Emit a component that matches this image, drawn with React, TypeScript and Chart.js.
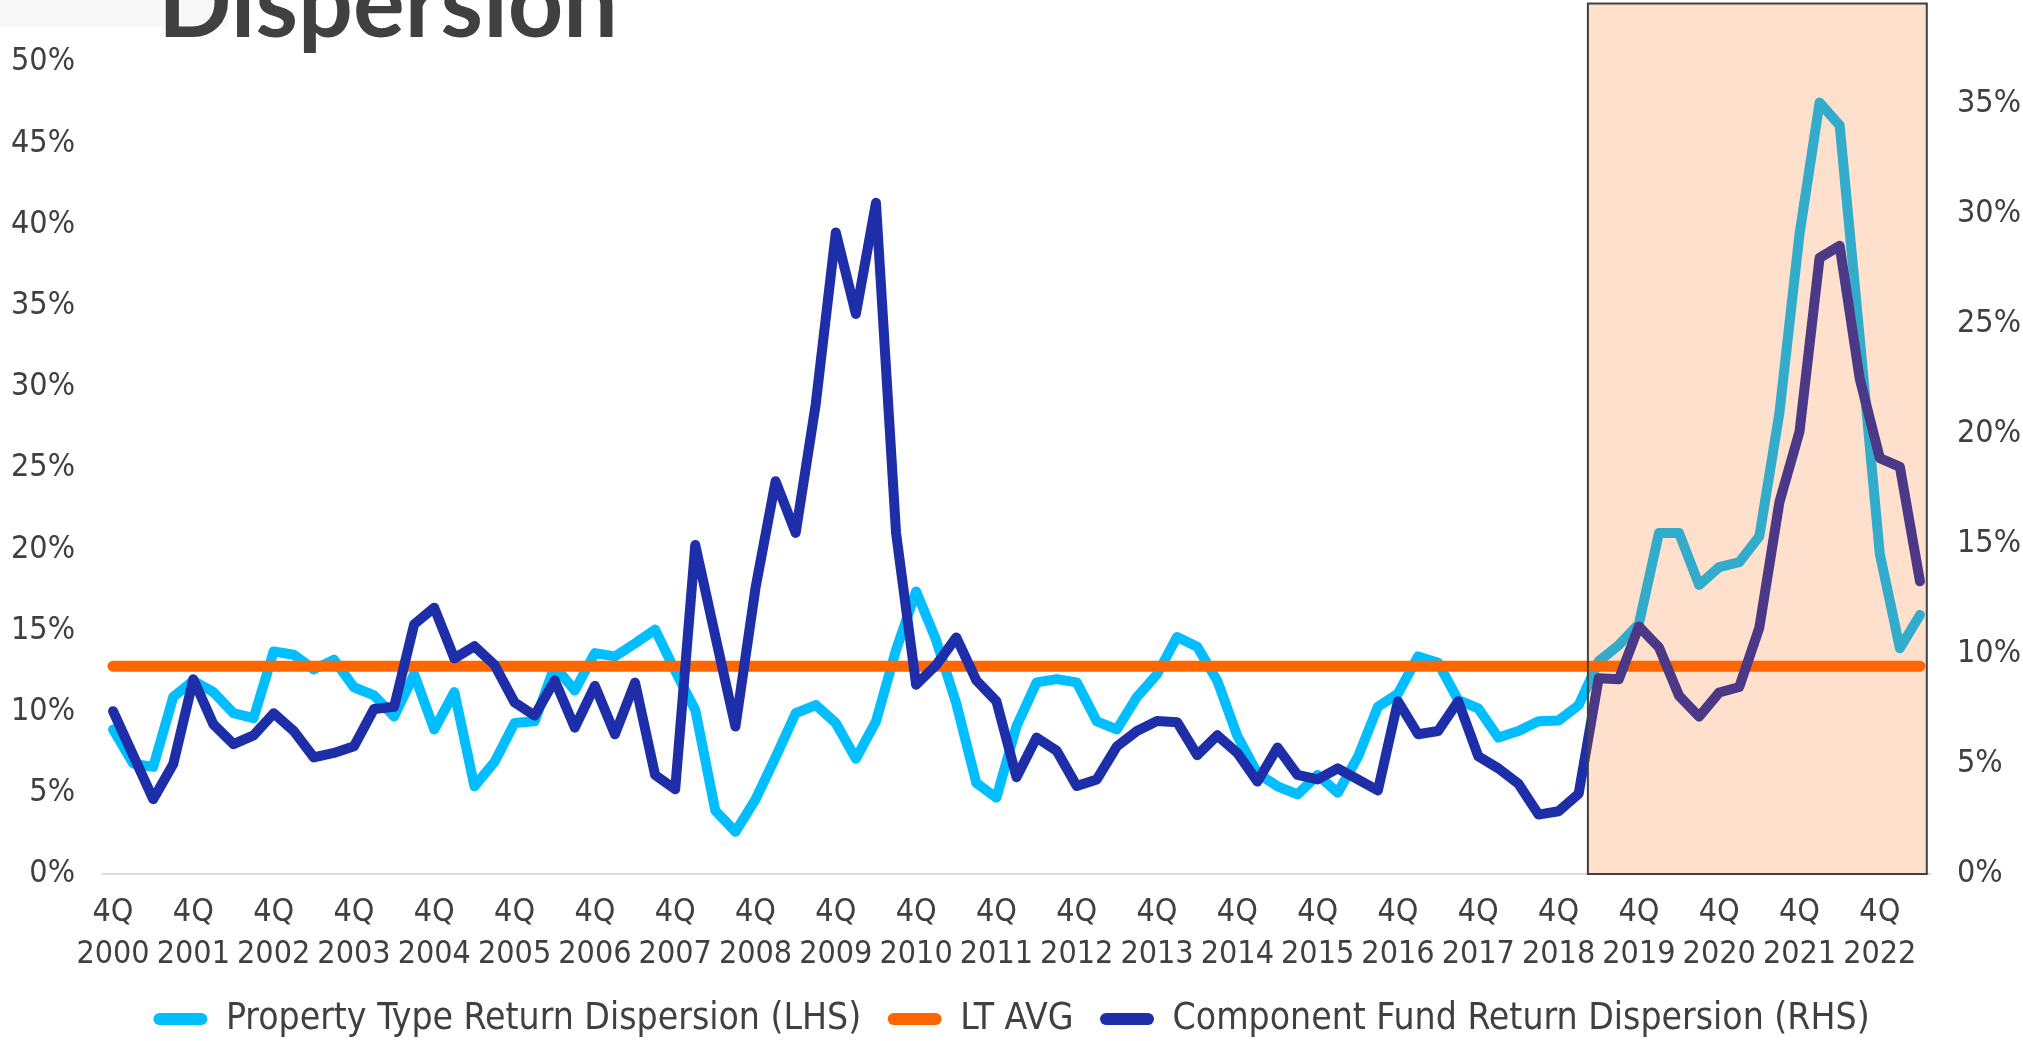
import { useEffect, useRef } from 'react';
import { Chart, registerables } from 'chart.js';

Chart.register(...registerables);

// ---------- data ----------
const firstYear = 2000; // series starts 4Q 2000
const quarterCount = 91; // 4Q 2000 .. 2Q 2023
const categories: string[] = [];
for (let i = 0; i < quarterCount; i++) {
  const q = ((3 + i) % 4) + 1;
  const y = firstYear + Math.floor((3 + i) / 4);
  categories.push(`${q}Q ${y}`);
}

// Property Type Return Dispersion (LHS), %
const propertyTypeDispersion = [
  8.9, 6.8, 6.6, 10.9, 11.9, 11.2, 9.9, 9.6, 13.7, 13.5,
  12.6, 13.2, 11.5, 11.0, 9.7, 12.3, 8.9, 11.2, 5.4, 6.9,
  9.3, 9.4, 12.8, 11.3, 13.6, 13.4, 14.2, 15.05, 12.5, 10.1,
  3.9, 2.6, 4.6, 7.2, 9.9, 10.4, 9.3, 7.1, 9.4, 13.8,
  17.4, 14.4, 10.5, 5.6, 4.7, 9.1, 11.8, 12.0, 11.8, 9.4,
  8.9, 10.9, 12.3, 14.6, 14.0, 11.9, 8.5, 6.2, 5.4, 4.9,
  6.1, 5.0, 7.2, 10.3, 11.1, 13.4, 13.0, 10.7, 10.2, 8.4,
  8.8, 9.4, 9.45, 10.4, 13.1, 14.1, 15.4, 21.0, 21.0, 17.8,
  18.9, 19.2, 20.8, 28.4, 39.4, 47.5, 46.1, 33.0, 19.7, 13.9,
  15.95,
];

// Component Fund Return Dispersion (RHS), %
const componentFundDispersion = [
  7.4, 5.4, 3.4, 5.0, 8.85, 6.8, 5.9, 6.3, 7.3, 6.5,
  5.3, 5.5, 5.8, 7.5, 7.6, 11.35, 12.1, 9.8, 10.35, 9.5,
  7.8, 7.2, 8.8, 6.65, 8.55, 6.35, 8.7, 4.5, 3.85, 14.95,
  10.8, 6.7, 13.0, 17.85, 15.5, 21.35, 29.15, 25.45, 30.5, 15.5,
  8.6, 9.5, 10.75, 8.8, 7.85, 4.4, 6.2, 5.6, 4.0, 4.3,
  5.8, 6.5, 6.95, 6.9, 5.4, 6.3, 5.5, 4.2, 5.75, 4.5,
  4.3, 4.8, 4.3, 3.8, 7.85, 6.35, 6.5, 7.85, 5.35, 4.8,
  4.1, 2.7, 2.85, 3.65, 8.9, 8.85, 11.25, 10.3, 8.1, 7.15,
  8.25, 8.5, 11.2, 16.9, 20.1, 28.0, 28.55, 22.5, 18.9, 18.5,
  13.3,
];

// Long-term average (LHS), %
const ltAvgValue = 12.8;
const ltAvg = categories.map(() => ltAvgValue);

// axis settings
const leftMax = 50;
const rightMax = 36.9;
const tickStep = 5;

// highlighted period (category index units, LHS % for top)
const highlightFrom = 73.46;
const highlightTo = 90.34;
const highlightTop = 53.6;

const titleText = 'Dispersion';

const LIGHT = '#00BEFF';
const DARK = '#1E2EA8';
const ORANGE = '#FF6600';
const TEXT = '#404040';
const FONT = "'DejaVu Sans Condensed', 'DejaVu Sans', sans-serif";

const highlightPlugin = {
  id: 'highlightBox',
  afterDatasetsDraw(chart: any) {
    const { ctx, scales } = chart;
    const x = scales.x;
    const y = scales.yLeft;
    const l = x.getPixelForValue(highlightFrom);
    const r = x.getPixelForValue(highlightTo);
    const t = y.getPixelForValue(highlightTop);
    const b = y.getPixelForValue(0);
    ctx.save();
    ctx.fillStyle = 'rgba(255,102,0,0.2)';
    ctx.fillRect(l, t, r - l, b - t);
    ctx.strokeStyle = '#404040';
    ctx.lineWidth = 2;
    ctx.strokeRect(l, t, r - l, b - t);
    ctx.restore();
  },
};

const titlePlugin = {
  id: 'cutTitle',
  beforeDraw(chart: any) {
    const { ctx } = chart;
    ctx.save();
    ctx.fillStyle = '#F8F8F8';
    ctx.fillRect(0, 0, 228, 27);
    ctx.restore();
  },
  afterDraw(chart: any) {
    const { ctx } = chart;
    ctx.save();
    ctx.font = `bold 100px Lato, 'Open Sans', sans-serif`;
    const w = ctx.measureText(titleText).width;
    const size = (100 * 460) / w;
    ctx.font = `bold ${size}px Lato, 'Open Sans', sans-serif`;
    ctx.fillStyle = TEXT;
    ctx.textBaseline = 'alphabetic';
    ctx.fillText(titleText, 158, 37);
    ctx.restore();
  },
};

export default function App() {
  const ref = useRef<HTMLCanvasElement | null>(null);

  useEffect(() => {
    if (!ref.current) return;
    const defaultGen = (Chart as any).defaults.plugins.legend.labels.generateLabels;
    const chart = new Chart(ref.current, {
      type: 'line',
      data: {
        labels: categories,
        datasets: [
          {
            label: 'Property Type Return Dispersion (LHS)',
            data: propertyTypeDispersion,
            yAxisID: 'yLeft',
            borderColor: LIGHT,
            backgroundColor: LIGHT,
            borderWidth: 10,
            pointRadius: 0,
            tension: 0,
            borderJoinStyle: 'round',
            borderCapStyle: 'round',
            order: 3,
          },
          {
            label: 'LT AVG',
            data: ltAvg,
            yAxisID: 'yLeft',
            borderColor: ORANGE,
            backgroundColor: ORANGE,
            borderWidth: 11,
            pointRadius: 0,
            tension: 0,
            borderCapStyle: 'round',
            order: 2,
          },
          {
            label: 'Component Fund Return Dispersion (RHS)',
            data: componentFundDispersion,
            yAxisID: 'yRight',
            borderColor: DARK,
            backgroundColor: DARK,
            borderWidth: 10,
            pointRadius: 0,
            tension: 0,
            borderJoinStyle: 'round',
            borderCapStyle: 'round',
            order: 1,
          },
        ],
      } as any,
      options: {
        responsive: false,
        devicePixelRatio: 1,
        animation: false,
        layout: { padding: { top: 62, left: 0, right: 0, bottom: -6.5 } },
        plugins: {
          tooltip: { enabled: false },
          title: { display: false },
          legend: {
            position: 'bottom',
            labels: {
              font: { family: FONT, size: 37 },
              color: TEXT,
              boxWidth: 54,
              boxHeight: 12,
              useBorderRadius: true,
              borderRadius: 6,
              padding: 26.5,
              sort: (a: any, b: any) => a.datasetIndex - b.datasetIndex,
              generateLabels: (c: any) =>
                defaultGen(c).map((l: any) => ({ ...l, lineWidth: 0, fillStyle: l.strokeStyle })),
            },
          },
        },
        scales: {
          x: {
            type: 'category',
            offset: true,
            grid: { display: false, drawTicks: false },
            border: { display: true, color: '#DCDCDC', width: 2 },
            ticks: {
              autoSkip: false,
              maxRotation: 0,
              minRotation: 0,
              padding: 18,
              color: TEXT,
              font: { family: FONT, size: 32, lineHeight: 1.3 },
              callback: function (this: any, value: any) {
                const lab: string = this.getLabelForValue(value);
                if (lab.startsWith('4Q')) return ['4Q', lab.split(' ')[1]];
                return '';
              },
            },
            afterFit: (s: any) => {
              s.height = 100;
            },
          },
          yLeft: {
            type: 'linear',
            position: 'left',
            min: 0,
            max: leftMax,
            grid: { display: false, drawTicks: false },
            border: { display: false },
            ticks: {
              stepSize: tickStep,
              padding: 28,
              color: TEXT,
              font: { family: FONT, size: 32 },
              callback: (v: any) => `${v}%`,
            },
            afterFit: (s: any) => {
              s.width = 103;
            },
          },
          yRight: {
            type: 'linear',
            position: 'right',
            min: 0,
            max: rightMax,
            grid: { display: false, drawTicks: false },
            border: { display: false },
            ticks: {
              stepSize: tickStep,
              includeBounds: false,
              padding: 27,
              color: TEXT,
              font: { family: FONT, size: 32 },
              callback: (v: any) => `${v}%`,
            },
            afterFit: (s: any) => {
              s.width = 93;
            },
          },
        },
      } as any,
      plugins: [highlightPlugin, titlePlugin],
    });
    return () => chart.destroy();
  }, []);

  return (
    <div style={{ position: 'fixed', left: 0, top: 0, width: 2023, height: 1041, background: '#fff' }}>
      <canvas ref={ref} width={2023} height={1041} style={{ display: 'block', width: 2023, height: 1041 }} />
    </div>
  );
}
